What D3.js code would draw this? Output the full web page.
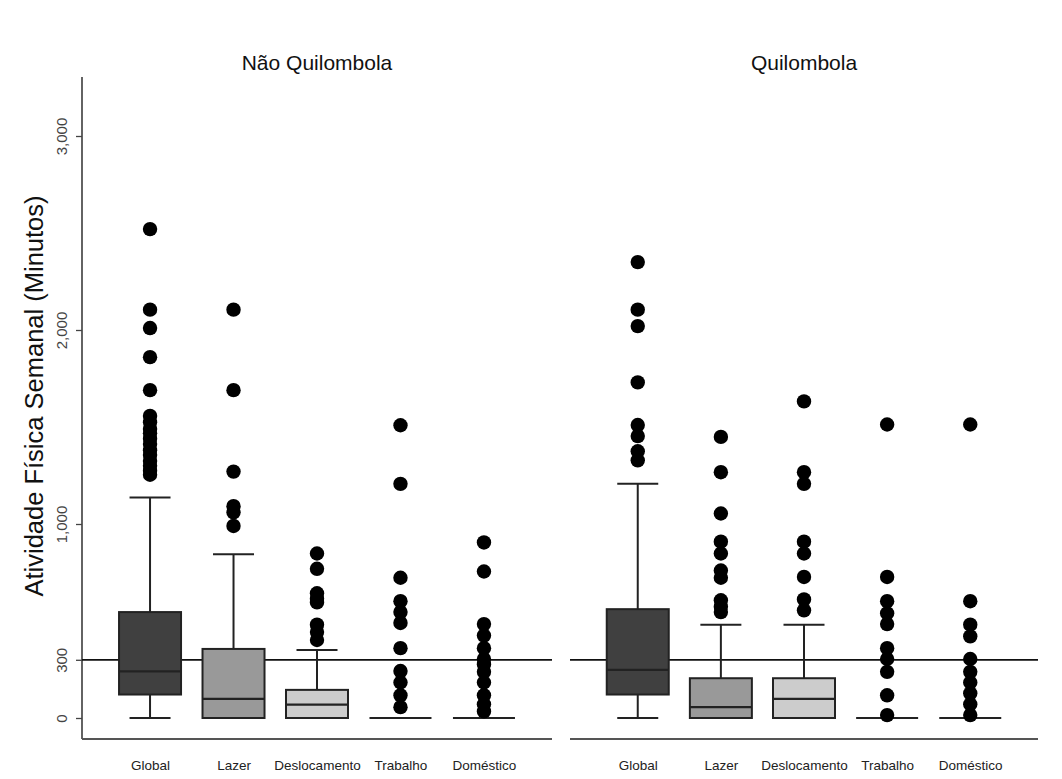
<!DOCTYPE html>
<html>
<head>
<meta charset="utf-8">
<script src="https://cdn.jsdelivr.net/npm/d3@7"></script>
<style>
  html, body { margin: 0; padding: 0; background: #fff; }
  svg { display: block; font-family: "Liberation Sans", Arial, sans-serif; }
</style>
</head>
<body>
<svg id="chart" width="1062" height="779"></svg>
<script>
// ---- data ----
const categories = ["Global", "Lazer", "Deslocamento", "Trabalho", "Doméstico"];
const groups = ["Não Quilombola", "Quilombola"];
const yTicks = [0, 300, 1000, 2000, 3000];
const referenceValue = 300;
const fills = ["#404040", "#999999", "#cccccc", "#ffffff", "#ffffff"];

// per group, per category
const q1Nao      = [121, 0, 0, 0, 0];
const medianNao  = [240, 99, 69, 0, 0];
const q3Nao      = [546, 356, 145, 0, 0];
const whiskLoNao = [0, 0, 0, 0, 0];
const whiskHiNao = [1136, 844, 350, 0, 0];
const outliersNao = [
  [2520, 2105, 2010, 1860, 1690, 1557, 1524, 1490, 1468, 1440, 1412, 1380, 1356, 1325, 1300, 1275, 1254],
  [2105, 1690, 1270, 1092, 1060, 990],
  [848, 769, 643, 615, 596, 481, 443, 402],
  [1509, 1207, 723, 602, 546, 490, 360, 242, 183, 117, 56],
  [905, 755, 484, 425, 360, 304, 276, 238, 183, 117, 71, 34]
];

const q1Q      = [121, 0, 0, 0, 0];
const medianQ  = [248, 56, 99, 0, 0];
const q3Q      = [561, 205, 205, 0, 0];
const whiskLoQ = [0, 0, 0, 0, 0];
const whiskHiQ = [1207, 481, 481, 0, 0];
const outliersQ = [
  [2350, 2105, 2020, 1730, 1510, 1453, 1375, 1328],
  [1449, 1267, 1054, 909, 848, 760, 723, 607, 574, 546],
  [1632, 1267, 1207, 909, 848, 727, 611, 555],
  [1513, 727, 602, 540, 484, 360, 304, 238, 117, 15],
  [1513, 602, 481, 421, 304, 238, 183, 127, 71, 15]
];

const panels = [
  { title: groups[0], q1: q1Nao, med: medianNao, q3: q3Nao, lo: whiskLoNao, hi: whiskHiNao, out: outliersNao, x0: 82, x1: 552 },
  { title: groups[1], q1: q1Q, med: medianQ, q3: q3Q, lo: whiskLoQ, hi: whiskHiQ, out: outliersQ, x0: 570, x1: 1038 }
];

// ---- layout ----
const svg = d3.select("#chart");
const y = d3.scaleLinear().domain([0, 3000]).range([718, 136]);
const axisBottomY = 739;
const boxW = 62, capW = 41, r = 7.2;
const sw = 2;

// y axis
const yAxisX = 82;
svg.append("line")
  .attr("x1", yAxisX).attr("x2", yAxisX)
  .attr("y1", 77).attr("y2", axisBottomY)
  .attr("stroke", "#222").attr("stroke-width", 1.4);

const yAxis = d3.axisLeft(y).tickValues(yTicks).tickSize(6).tickPadding(8)
  .tickFormat(d3.format(","));
const gy = svg.append("g").attr("transform", `translate(${yAxisX},0)`).call(yAxis);
gy.select(".domain").remove();
gy.selectAll(".tick line").attr("stroke", "#444").attr("stroke-width", 1.3);
gy.selectAll(".tick text")
  .attr("font-size", 15)
  .attr("fill", "#444")
  .attr("text-anchor", "middle")
  .attr("x", null).attr("dy", null)
  .attr("transform", "translate(-19,0) rotate(-90)")
  .attr("dominant-baseline", "middle");

// y title
svg.append("text")
  .attr("transform", "translate(36,396) rotate(-90)")
  .attr("text-anchor", "middle")
  .attr("dominant-baseline", "middle")
  .attr("font-size", 25.5)
  .attr("fill", "#111")
  .text("Atividade Física Semanal (Minutos)");

panels.forEach(p => {
  const x = d3.scalePoint().domain(categories).range([p.x0, p.x1]).padding(0.815);
  const g = svg.append("g");

  // title
  g.append("text")
    .attr("x", (p.x0 + p.x1) / 2).attr("y", 70)
    .attr("text-anchor", "middle")
    .attr("font-size", 21).attr("fill", "#111")
    .text(p.title);

  // x axis line + labels
  g.append("line")
    .attr("x1", p.x0).attr("x2", p.x1)
    .attr("y1", axisBottomY).attr("y2", axisBottomY)
    .attr("stroke", "#555").attr("stroke-width", 2.2);
  const xAxis = d3.axisBottom(x).tickSize(0).tickPadding(21);
  const gx = g.append("g").attr("transform", `translate(0,${axisBottomY})`).call(xAxis);
  gx.select(".domain").remove();
  gx.selectAll(".tick text").attr("font-size", 13.5).attr("fill", "#222");

  // reference line
  g.append("line")
    .attr("x1", p.x0).attr("x2", p.x1)
    .attr("y1", y(referenceValue)).attr("y2", y(referenceValue))
    .attr("stroke", "#111").attr("stroke-width", 1.8);

  categories.forEach((c, i) => {
    const cx = x(c);
    const degenerate = p.q3[i] === p.q1[i];
    if (!degenerate) {
      // whiskers
      g.append("line").attr("x1", cx).attr("x2", cx)
        .attr("y1", y(p.q3[i])).attr("y2", y(p.hi[i]))
        .attr("stroke", "#222").attr("stroke-width", sw);
      g.append("line").attr("x1", cx - capW / 2).attr("x2", cx + capW / 2)
        .attr("y1", y(p.hi[i])).attr("y2", y(p.hi[i]))
        .attr("stroke", "#222").attr("stroke-width", sw);
      if (p.q1[i] > p.lo[i]) {
        g.append("line").attr("x1", cx).attr("x2", cx)
          .attr("y1", y(p.q1[i])).attr("y2", y(p.lo[i]))
          .attr("stroke", "#222").attr("stroke-width", sw);
        g.append("line").attr("x1", cx - capW / 2).attr("x2", cx + capW / 2)
          .attr("y1", y(p.lo[i])).attr("y2", y(p.lo[i]))
          .attr("stroke", "#222").attr("stroke-width", sw);
      }
      // box
      g.append("rect")
        .attr("x", cx - boxW / 2).attr("width", boxW)
        .attr("y", y(p.q3[i])).attr("height", y(p.q1[i]) - y(p.q3[i]))
        .attr("fill", fills[i]).attr("stroke", "#222").attr("stroke-width", sw);
      g.append("line").attr("x1", cx - boxW / 2).attr("x2", cx + boxW / 2)
        .attr("y1", y(p.med[i])).attr("y2", y(p.med[i]))
        .attr("stroke", "#222").attr("stroke-width", sw + 0.2);
    } else {
      g.append("line").attr("x1", cx - boxW / 2).attr("x2", cx + boxW / 2)
        .attr("y1", y(p.med[i])).attr("y2", y(p.med[i]))
        .attr("stroke", "#222").attr("stroke-width", sw + 0.2);
    }
    // outliers
    g.selectAll(null).data(p.out[i]).enter().append("circle")
      .attr("cx", cx).attr("cy", d => y(d)).attr("r", r)
      .attr("fill", "#000");
  });
});
</script>
</body>
</html>
